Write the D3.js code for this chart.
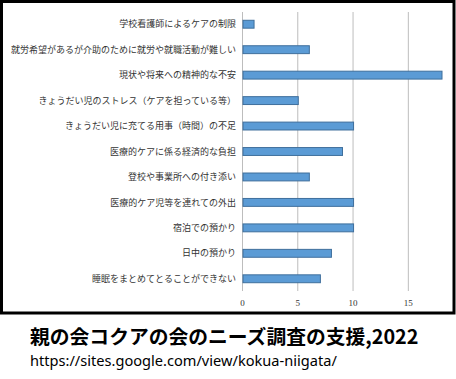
<!DOCTYPE html>
<html>
<head>
<meta charset="utf-8">
<script src="https://cdn.jsdelivr.net/npm/d3@7"></script>
<style>
  body { margin: 0; background: #fff; }
  svg { display: block; }
</style>
</head>
<body>
<div id="chart"></div>
<script>
// Chart data
var categories = [
  "学校看護師によるケアの制限",
  "就労希望があるが介助のために就労や就職活動が難しい",
  "現状や将来への精神的な不安",
  "きょうだい児のストレス（ケアを担っている等）",
  "きょうだい児に充てる用事（時間）の不足",
  "医療的ケアに係る経済的な負担",
  "登校や事業所への付き添い",
  "医療的ケア児等を連れての外出",
  "宿泊での預かり",
  "日中の預かり",
  "睡眠をまとめてとることができない"
];
var counts = [1, 6, 18, 5, 10, 9, 6, 10, 10, 8, 7];
var tickValues = [0, 5, 10, 15];
var titleText = "親の会コクアの会のニーズ調査の支援,2022";
var urlText = "https://sites.google.com/view/kokua-niigata/";

var width = 456;
var height = 379;

var svg = d3.select("#chart")
  .append("svg")
  .attr("width", width)
  .attr("height", height);

// Frame around the chart image
svg.append("rect")
  .attr("x", 1.5)
  .attr("y", 1.5)
  .attr("width", 452.5)
  .attr("height", 311.5)
  .style("fill", "#fff")
  .style("stroke", "#000")
  .style("stroke-width", 3);

var x = d3.scaleLinear()
  .domain([0, 18])
  .range([242.5, 441.5]);

var y = d3.scaleBand()
  .domain(categories)
  .range([11.5, 291.5])
  .paddingInner(0.69)
  .paddingOuter(0.345);

// Gridlines
svg.append("g")
  .selectAll("line")
  .data(tickValues)
  .enter()
  .append("line")
  .attr("x1", d => x(d))
  .attr("x2", d => x(d))
  .attr("y1", 12)
  .attr("y2", 291)
  .style("stroke", "#bdbdbd")
  .style("stroke-width", 1);

// Bars
svg.append("g")
  .selectAll("rect")
  .data(categories)
  .enter()
  .append("rect")
  .attr("x", x(0) + 0.5)
  .attr("y", d => y(d))
  .attr("width", (d, i) => x(counts[i]) - x(0))
  .attr("height", y.bandwidth())
  .style("fill", "#5b9bd5")
  .style("stroke", "#3f6f9c")
  .style("stroke-width", 1);

// Category labels
svg.append("g")
  .selectAll("text")
  .data(categories)
  .enter()
  .append("text")
  .attr("x", 236)
  .attr("y", d => y(d) + y.bandwidth() / 2)
  .attr("dy", "0.35em")
  .attr("text-anchor", "end")
  .style("font-family", "'Noto Sans CJK JP', sans-serif")
  .style("font-size", "9px")
  .style("fill", "#333")
  .text(d => d);

// Tick labels
svg.append("g")
  .selectAll("text")
  .data(tickValues)
  .enter()
  .append("text")
  .attr("x", d => x(d))
  .attr("y", 306)
  .attr("text-anchor", "middle")
  .style("font-family", "'Liberation Serif', serif")
  .style("font-size", "9px")
  .style("fill", "#333")
  .text(d => d);

// Caption below the frame
svg.append("text")
  .attr("x", 30)
  .attr("y", 344)
  .style("font-family", "'Noto Sans CJK JP', sans-serif")
  .style("font-weight", "bold")
  .style("font-size", "19.8px")
  .style("fill", "#000")
  .text(titleText);

svg.append("text")
  .attr("x", 30)
  .attr("y", 366)
  .style("font-family", "'Noto Sans', sans-serif")
  .style("font-size", "14.6px")
  .style("fill", "#000")
  .text(urlText);
</script>
</body>
</html>
